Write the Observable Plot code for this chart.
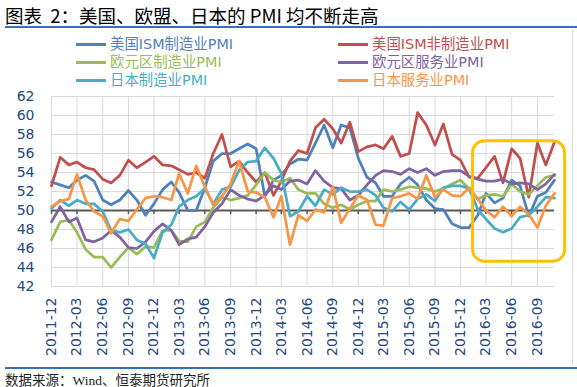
<!DOCTYPE html>
<html><head><meta charset="utf-8">
<script src="https://cdn.jsdelivr.net/npm/d3@7"></script>
<script src="https://cdn.jsdelivr.net/npm/@observablehq/plot@0.6"></script>
<style>
body{margin:0;background:#fff;}
#page{position:relative;width:577px;height:387px;overflow:hidden;font-family:"DejaVu Sans","Noto Sans CJK SC",sans-serif;}
#title{position:absolute;left:5px;top:3px;font-size:18.5px;line-height:24px;font-family:"Noto Sans CJK SC",sans-serif;color:#000;white-space:pre;}
.rule{position:absolute;left:5px;width:572px;height:2px;background:#3a6fb4;}
.leg{position:absolute;display:flex;align-items:center;font-size:14.4px;line-height:18px;height:18px;white-space:nowrap;font-family:"DejaVu Sans","Noto Sans CJK SC",sans-serif;}
.leg i{display:inline-block;width:30px;height:3px;margin-right:4px;}
#chart{position:absolute;left:0;top:88px;}
#border{position:absolute;left:572px;top:30px;width:1px;height:335px;background:#d9d9d9;}
#caption{position:absolute;left:5px;top:373px;font-size:13.5px;line-height:16px;font-family:"Liberation Serif","Noto Sans CJK SC",serif;color:#222;white-space:nowrap;}
</style>
</head><body>
<div id="page">
  <div id="title">图表  2：美国、欧盟、日本的 PMI 均不断走高</div>
  <div class="rule" style="top:26px"></div>
  <div id="legend"></div>
  <div id="border"></div>
  <div id="chart"></div>
  <div class="rule" style="top:367px"></div>
  <div id="caption">数据来源：Wind、恒泰期货研究所</div>
</div>
<script>
// Monthly data, 2011-12 .. 2016-11
const firstMonth = "2011-12";
const lastMonth = "2016-11";

const usIsmMfg = [53.0,52.7,52.4,53.2,53.7,53.1,51.1,50.6,51.1,52.1,51.1,49.5,50.7,52.2,53.0,51.9,50.0,50.0,52.4,55.2,56.0,56.0,56.5,57.0,56.5,51.5,53.2,53.7,54.9,55.4,55.3,57.1,59.0,56.6,59.0,58.7,55.5,53.5,52.9,51.5,51.5,52.8,53.5,52.7,51.1,50.2,50.1,48.6,48.2,48.2,49.5,51.8,50.8,51.3,53.2,52.6,49.4,51.5,51.9,53.2];
const usIsmNonMfg = [52.6,55.6,54.8,55.1,54.5,54.3,53.3,52.9,53.7,55.3,54.5,55.1,55.7,54.8,54.7,54.3,53.8,54.0,53.4,56.0,58.0,54.6,55.2,54.0,53.0,54.0,51.6,53.1,55.2,56.3,56.0,58.7,59.6,58.6,57.1,59.3,56.2,56.7,56.9,56.5,57.8,55.7,56.0,60.3,59.0,56.9,59.1,55.9,55.3,53.5,53.4,54.5,55.7,52.9,56.5,55.5,51.4,57.1,54.8,57.2];
const euroMfg = [46.9,48.8,49.0,47.7,45.9,45.1,45.1,44.0,45.1,46.1,45.4,46.2,46.1,47.9,47.9,46.8,46.7,48.3,48.8,50.3,51.4,51.1,51.3,51.6,52.7,54.0,53.2,53.0,53.4,52.2,51.8,51.8,50.7,50.3,50.6,50.1,50.6,51.0,51.0,52.2,52.0,52.2,52.5,52.4,52.3,52.0,52.3,52.8,53.2,52.3,51.2,51.6,51.7,51.5,52.8,52.0,51.7,52.6,53.5,53.7];
const euroServices = [48.8,50.4,48.8,49.2,46.9,46.7,47.1,47.9,47.2,46.1,46.0,46.7,47.8,48.6,47.9,46.4,47.0,47.2,48.3,49.8,50.7,52.2,51.6,51.2,51.0,51.6,52.6,52.2,53.1,53.2,52.8,54.2,53.1,52.4,52.3,51.1,51.6,52.7,53.7,54.2,54.1,53.8,54.4,54.0,54.4,53.7,54.1,54.2,54.2,53.6,53.3,53.1,53.1,53.3,52.8,52.9,52.8,52.2,52.8,53.8];
const japanMfg = [50.2,51.1,50.5,51.1,50.7,50.7,49.9,47.9,47.7,48.0,46.9,46.5,45.0,47.7,48.5,50.4,51.1,51.5,52.3,50.7,52.2,52.5,54.2,55.1,55.2,56.6,55.5,53.9,49.4,49.9,51.5,50.5,52.2,51.7,52.4,52.0,52.0,52.2,51.6,50.3,49.9,50.9,50.1,51.2,51.7,51.0,52.4,52.6,52.6,52.3,50.1,49.1,48.1,47.7,48.1,49.3,49.5,50.4,51.4,51.3];
const japanServices = [50.4,51.0,51.2,53.8,51.1,49.9,49.4,47.6,49.1,48.9,50.1,51.3,51.5,51.4,51.1,53.9,51.8,54.7,52.5,50.6,51.5,52.8,55.2,52.0,51.9,51.4,49.3,51.5,46.4,49.5,48.9,50.1,49.8,52.5,48.7,50.2,51.6,51.1,48.5,48.4,51.3,51.5,51.8,51.2,53.7,51.4,52.2,51.6,51.5,52.4,51.2,50.0,49.3,50.4,49.4,50.4,49.6,48.2,50.5,51.8];

const seriesNames = ["美国ISM制造业PMI","美国ISM非制造业PMI","欧元区制造业PMI","欧元区服务业PMI","日本制造业PMI","日本服务业PMI"];
const seriesValues = [usIsmMfg, usIsmNonMfg, euroMfg, euroServices, japanMfg, japanServices];
const seriesColors = ["#4F81BD","#C0504D","#9BBB59","#8064A2","#4BACC6","#F79646"];

const tickLabels = ["2011-12","2012-03","2012-06","2012-09","2012-12","2013-03","2013-06","2013-09","2013-12","2014-03","2014-06","2014-09","2014-12","2015-03","2015-06","2015-09","2015-12","2016-03","2016-06","2016-09"];
const yTicks = [42,44,46,48,50,52,54,56,58,60,62];

// highlighted period (annotation box)
const highlight = [{from: "2016-01-15", to: "2016-12-09", low: 44.6, high: 57.3}];

const parseMonth = d3.utcParse("%Y-%m");
const parseDay = d3.utcParse("%Y-%m-%d");
const months = d3.utcMonth.range(parseMonth(firstMonth), d3.utcMonth.offset(parseMonth(lastMonth), 1));
const tickDates = tickLabels.map(parseMonth);

const rows = [];
seriesNames.forEach((name, k) => seriesValues[k].forEach((v, i) => rows.push({name, date: months[i], value: v})));
const box = highlight.map(d => ({from: parseDay(d.from), to: parseDay(d.to), low: d.low, high: d.high}));

// legend
const legend = document.getElementById("legend");
const colLeft = [76, 338], rowCenter = [44, 62, 80];
seriesNames.forEach((name, k) => {
  const el = document.createElement("div");
  el.className = "leg";
  el.style.left = colLeft[k % 2] + "px";
  el.style.top = (rowCenter[Math.floor(k / 2)] - 9) + "px";
  el.style.color = seriesColors[k];
  el.innerHTML = `<i style="background:${seriesColors[k]}"></i><span>${name}</span>`;
  legend.appendChild(el);
});

const chart = Plot.plot({
  width: 577, height: 272,
  marginLeft: 51, marginRight: 23, marginTop: 8, marginBottom: 74,
  style: {fontFamily: "DejaVu Sans, sans-serif", fontSize: "14px", color: "#244a80", background: "transparent", overflow: "visible"},
  x: {type: "utc", domain: [months[0], months[months.length - 1]], ticks: tickDates, tickFormat: d3.utcFormat("%Y-%m"), tickRotate: -90, tickSize: 0, tickPadding: 11, label: null},
  y: {domain: [42, 62], ticks: yTicks, tickSize: 0, tickPadding: 17, label: null},
  color: {domain: seriesNames, range: seriesColors},
  marks: [
    Plot.ruleY(yTicks, {stroke: "#d9d9d9", strokeWidth: 1}),
    Plot.ruleX(tickDates, {stroke: "#d9d9d9", strokeWidth: 1}),
    Plot.ruleY([50], {stroke: "#595959", strokeWidth: 2}),
    Plot.ruleX(tickDates, {y1: 50, y2: 50, insetBottom: -4, stroke: "#595959", strokeWidth: 1.5}),
    Plot.line(rows, {x: "date", y: "value", z: "name", stroke: "name", strokeWidth: 2.75, strokeLinejoin: "round", strokeLinecap: "round"}),
    Plot.rect(box, {x1: "from", x2: "to", y1: "low", y2: "high", fill: "none", stroke: "#FFC000", strokeWidth: 3, rx: 12})
  ]
});
document.getElementById("chart").appendChild(chart);
</script>
</body></html>
